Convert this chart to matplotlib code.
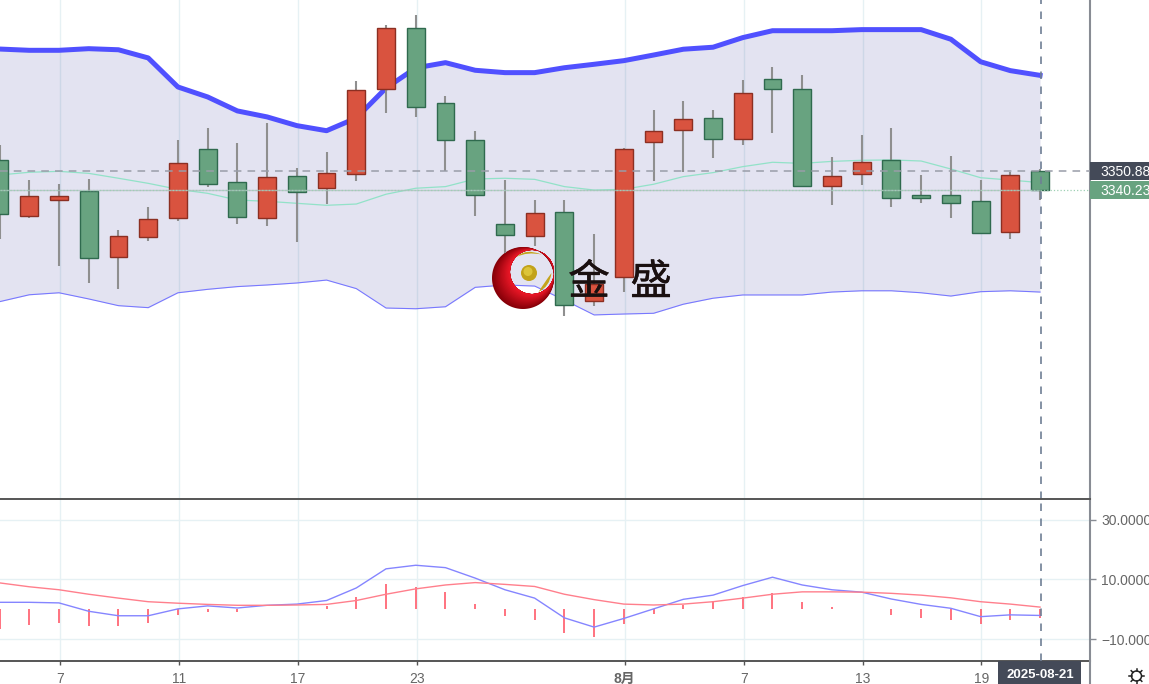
import numpy as np
import matplotlib
matplotlib.use('Agg')
from matplotlib import patheffects
from matplotlib import pyplot as plt
from matplotlib.colors import to_rgb
from matplotlib.lines import Line2D
from matplotlib.patches import Circle, PathPatch, Rectangle
from matplotlib.path import Path
from matplotlib.transforms import Affine2D, blended_transform_factory

plt.rcParams['font.family'] = ['Liberation Sans', 'Noto Sans CJK SC', 'DejaVu Sans']

# Daily candles
opens = [3356.8, 3325.9, 3334.7, 3339.7, 3303.3, 3314.3, 3324.8, 3362.8, 3344.6, 3324.8, 3347.9, 3341.3,
         3349.1, 3395.9, 3429.5, 3388.2, 3367.8, 3321.5, 3314.9, 3328.1, 3279.1, 3292.3, 3366.7, 3373.3,
         3379.9, 3368.3, 3401.4, 3395.9, 3342.4, 3349.1, 3356.8, 3337.5, 3337.5, 3334.2, 3317.1, 3350.88]
closes = [3327.0, 3336.9, 3336.9, 3302.8, 3314.9, 3324.3, 3355.1, 3343.5, 3325.4, 3347.4, 3339.1, 3349.6,
          3395.3, 3429.5, 3386.0, 3367.8, 3337.5, 3315.4, 3327.6, 3276.9, 3288.4, 3362.8, 3372.7, 3379.4,
          3368.3, 3393.7, 3395.9, 3342.4, 3347.9, 3355.7, 3335.8, 3335.8, 3333.1, 3316.5, 3348.5, 3340.23]
highs = [3365.0, 3345.7, 3343.5, 3346.3, 3318.2, 3330.9, 3367.8, 3374.4, 3366.1, 3377.2, 3352.4, 3361.2,
         3400.3, 3431.1, 3436.7, 3392.0, 3372.7, 3345.7, 3334.7, 3334.7, 3316.0, 3363.4, 3384.3, 3389.3,
         3384.3, 3400.8, 3408.0, 3403.6, 3358.4, 3370.5, 3374.4, 3348.5, 3359.0, 3345.7, 3350.2, 3351.8]
lows = [3313.2, 3324.8, 3298.4, 3289.0, 3285.7, 3312.1, 3323.2, 3341.9, 3321.5, 3320.4, 3311.6, 3332.5,
        3345.2, 3382.7, 3380.5, 3350.7, 3325.9, 3305.5, 3309.4, 3270.8, 3276.3, 3284.0, 3345.2, 3350.2,
        3357.9, 3365.0, 3371.6, 3341.9, 3332.0, 3343.0, 3330.9, 3333.1, 3324.8, 3316.0, 3313.2, 3334.7]

# Bollinger bands
boll_upper = [3417.9, 3417.2, 3417.2, 3418.1, 3417.5, 3413.0, 3397.0, 3391.5, 3383.8, 3380.5, 3375.7, 3372.9,
              3379.9, 3396.4, 3407.5, 3410.4, 3406.2, 3404.9, 3404.9, 3407.6, 3409.5, 3411.5, 3414.6, 3417.8,
              3418.9, 3424.2, 3428.0, 3428.0, 3428.0, 3428.6, 3428.6, 3428.6, 3423.3, 3410.9, 3406.0, 3403.4]
boll_mid = [3348.5, 3350.0, 3350.5, 3349.4, 3346.7, 3343.9, 3340.6, 3338.4, 3334.7, 3334.0, 3332.9, 3331.8,
            3332.5, 3337.9, 3341.2, 3342.1, 3346.3, 3346.7, 3346.1, 3342.1, 3340.2, 3340.6, 3343.4, 3347.6,
            3349.8, 3353.1, 3355.5, 3354.9, 3356.0, 3356.6, 3356.8, 3356.2, 3351.8, 3347.0, 3345.7, 3344.3]
boll_lower = [3278.7, 3282.5, 3283.6, 3280.2, 3276.5, 3275.4, 3283.6, 3285.5, 3287.0, 3287.9, 3289.0, 3290.6,
              3285.9, 3275.2, 3274.8, 3275.9, 3286.6, 3287.9, 3287.3, 3279.6, 3271.4, 3271.9, 3272.3, 3277.3,
              3280.6, 3282.4, 3282.4, 3282.4, 3284.0, 3284.7, 3284.7, 3283.6, 3281.8, 3284.2, 3284.7, 3284.0]

# MACD panel
dif = [2.3, 2.3, 2.1, -0.7, -2.2, -2.2, 0.1, 1.1, 0.4, 1.3, 1.7, 2.9,
       7.1, 13.5, 14.7, 13.9, 10.4, 6.5, 3.7, -2.9, -6.0, -3.1, 0.1, 3.3,
       4.7, 7.9, 10.7, 8.1, 6.5, 5.7, 3.4, 1.6, 0.3, -2.5, -1.9, -2.1]
dea = [8.8, 7.5, 6.5, 5.0, 3.7, 2.5, 2.0, 1.6, 1.3, 1.3, 1.4, 1.6,
       2.9, 5.0, 6.8, 8.1, 8.9, 8.3, 7.6, 5.0, 3.2, 1.7, 1.4, 1.7,
       2.5, 3.7, 5.0, 5.8, 5.8, 5.7, 5.3, 4.7, 3.8, 2.5, 1.7, 0.7]
macd_hist = [-6.5, -5.4, -4.5, -5.7, -5.7, -4.7, -1.9, -0.9, -1.1, 0.0, 0.0, 1.0,
             4.2, 8.4, 7.5, 5.6, 1.7, -2.2, -3.5, -7.9, -9.3, -4.9, -1.6, 1.5,
             2.7, 4.2, 5.5, 2.5, 0.8, 0.0, -1.8, -2.9, -3.6, -5.1, -3.6, -2.9]

tick_idx = [2, 6, 10, 14, 21, 25, 29, 33]
tick_labels = ['7', '11', '17', '23', '8月', '7', '13', '19']
macd_ticks = [30, 10, -10]
macd_tick_labels = ['30.0000', '10.0000', '\u221210.0000']
last_date = '2025-08-21'
prev_price = 3350.88
last_price = 3340.23

RED = '#d9533f'
RED_EDGE = '#8c2f22'
GREEN = '#68a380'
GREEN_EDGE = '#2f6a4e'
GRID = '#e6f1f4'
AXIS = '#888c94'
DARK = '#444a58'
TICK_TEXT = '#666666'

# Figure pixels, y going down; used for the logo and the gear only
fig = plt.figure(figsize=(11.49, 6.84), dpi=100)
px = Affine2D().scale(1, -1).translate(0, 684)

ax = fig.add_axes([0, (684 - 499) / 684, 1090 / 1149, 499 / 684])
sub = fig.add_axes([0, (684 - 661) / 684, 1090 / 1149, 162 / 684])
x = np.arange(len(opens))

# Price panel
ax.fill_between(x, boll_lower, boll_upper, color='#3a3a9c', alpha=0.14, lw=0, zorder=1)
ax.plot(x, boll_upper, color='#5050ff', lw=3.6, zorder=2, solid_joinstyle='round')
ax.plot(x, boll_lower, color='#7878ff', lw=0.8, zorder=2)
ax.plot(x, boll_mid, color='#92e2c8', lw=0.9, zorder=2)

# Logo sits over the bands but under the candles
theta = np.linspace(0, 2 * np.pi, 120)
inner = Path(np.column_stack([532 + 22 * np.cos(theta[::-1]), 272 + 22 * np.sin(theta[::-1])]))
dark_red = np.array(to_rgb('#860008'))
bright_red = np.array(to_rgb('#f01828'))
for t in np.linspace(0, 0.92, 14):
    cx, cy, r = 523 + 9 * t, 278 - 6 * t, 31 - 9 * t
    outer = Path(np.column_stack([cx + r * np.cos(theta), cy + r * np.sin(theta)]))
    ax.add_patch(PathPatch(Path.make_compound_path(outer, inner), transform=px, lw=0,
                           fc=dark_red + (bright_red - dark_red) * t, zorder=3))
leaf1 = Path([(516.5, 257), (526, 248), (541.5, 254.5), (527, 251.5), (516.5, 257)],
             [Path.MOVETO, Path.CURVE3, Path.CURVE3, Path.CURVE3, Path.CURVE3])
leaf2 = Path([(538.5, 292), (549.5, 287), (551.5, 273), (544, 283), (538.5, 292)],
             [Path.MOVETO, Path.CURVE3, Path.CURVE3, Path.CURVE3, Path.CURVE3])
for leaf in [leaf1, leaf2]:
    ax.add_patch(PathPatch(leaf, transform=px, fc='#c4a41c', ec='none', zorder=3))
ax.add_patch(Circle((529, 273), 8, transform=px, fc='#c2a21a', ec='none', zorder=3))
ax.add_patch(Circle((528, 271.5), 4.5, transform=px, fc='#dcc43a', ec='none', zorder=3))

# Candles: red up, green down
up = np.array(closes) >= np.array(opens)
body_low = np.minimum(opens, closes)
body_h = np.abs(np.array(closes) - np.array(opens))
ax.vlines(x, lows, highs, color='#8f8f8f', lw=1.5, zorder=4)
ax.bar(x, body_h, bottom=body_low, width=0.6, color=[RED if u else GREEN for u in up],
       edgecolor=[RED_EDGE if u else GREEN_EDGE for u in up], linewidth=1.0, zorder=5)

for cx, word in [(589, '金'), (651, '盛')]:
    t = ax.text(cx, 283, word, transform=px, ha='center', va='center', fontsize=30, color='#1a1010',
                family=['Noto Sans CJK SC'], zorder=6)
    t.set_path_effects([patheffects.withStroke(linewidth=0.3, foreground='#1a1010')])

ax.axhline(prev_price, color='#999da8', lw=1.1, ls=(0, (5, 4)), zorder=7)
ax.hlines(last_price, 0, x[-1], color='#aabcbc', lw=1.0, alpha=0.7, zorder=7)
ax.axhline(last_price, color='#9fd0b4', lw=0.9, ls=':', zorder=7)
ax.axvline(x[-1] + 0.03, color='#6f7f95', lw=1.2, ls=(0, (4.5, 4.5)), zorder=8)

ax.set_xlim(0.0155, 36.68)
ax.set_ylim(3169.97, 3444.92)
ax.set_xticks([i + 0.03 for i in tick_idx])
ax.set_yticks([])
ax.tick_params(axis='x', length=0, labelbottom=False)
ax.grid(axis='x', color=GRID, lw=1.0, zorder=0)
ax.set_axisbelow(True)
for side in ['top', 'left', 'bottom']:
    ax.spines[side].set_visible(False)
ax.spines['right'].set_color(AXIS)
ax.spines['right'].set_linewidth(1.5)

# Price tags right of the axis
tag = blended_transform_factory(ax.transAxes, ax.transData)
for price, color in [(prev_price, DARK), (last_price, GREEN)]:
    ax.add_patch(Rectangle((1.0, price - 4.95), 59 / 1090, 9.9, transform=tag, fc=color, ec='none',
                           clip_on=False, zorder=10))
    ax.text(1 + 10 / 1090, price, '%.2f' % price, transform=tag, color='white', fontsize=10,
            ha='left', va='center_baseline', clip_on=False, zorder=11)

# MACD panel
sub.vlines(x, 0, macd_hist, color='#ff5a6a', lw=1.2, zorder=3)
sub.plot(x, dif, color='#8585ff', lw=1.0, zorder=4)
sub.plot(x, dea, color='#ff7f8c', lw=1.0, zorder=4)
sub.axvline(x[-1] + 0.03, color='#6f7f95', lw=1.2, ls=(0, (4.5, 4.5)), zorder=8)

sub.set_xlim(0.0155, 36.68)
sub.set_ylim(-17.34, 36.87)
sub.set_xticks([i + 0.03 for i in tick_idx])
sub.set_xticklabels(tick_labels)
sub.set_yticks(macd_ticks)
sub.set_yticklabels(macd_tick_labels)
sub.yaxis.tick_right()
sub.tick_params(axis='x', length=3, width=1, color='#555555', labelcolor=TICK_TEXT, labelsize=10, pad=5)
sub.tick_params(axis='y', length=4.5, width=1, color=AXIS, labelcolor=TICK_TEXT, labelsize=10, pad=3.5)
sub.get_xticklabels()[4].set_fontweight('bold')
sub.grid(color=GRID, lw=1.0, zorder=0)
sub.set_axisbelow(True)
sub.spines['left'].set_visible(False)
sub.spines['top'].set_color('#555555')
sub.spines['top'].set_linewidth(1.4)
sub.spines['bottom'].set_color('#555555')
sub.spines['bottom'].set_linewidth(1.4)
sub.spines['right'].set_color(AXIS)
sub.spines['right'].set_linewidth(1.5)

# Date tag under the crosshair
date_tag = blended_transform_factory(sub.transData, sub.transAxes)
sub.add_patch(Rectangle((33.58, -23 / 162), 2.8, 23 / 162, transform=date_tag, fc=DARK, ec='none',
                        clip_on=False, zorder=10))
sub.text(x[-1], -14.5 / 162, last_date, transform=date_tag, color='white', fontsize=9.5, fontweight='bold',
         ha='center', va='center', clip_on=False, zorder=11)

# Axis line carries on to the bottom edge, then the gear
fig.add_artist(Line2D([1090, 1090], [661, 684], transform=px, color=AXIS, lw=1.5))
fig.add_artist(Circle((1136.5, 676), 5, transform=px, fc='none', ec='#222222', lw=1.1))
for a in np.arange(8) * np.pi / 4:
    fig.add_artist(Line2D([1136.5 + 5 * np.cos(a), 1136.5 + 7.5 * np.cos(a)],
                          [676 + 5 * np.sin(a), 676 + 7.5 * np.sin(a)],
                          transform=px, color='#222222', lw=1.1))

plt.savefig('out.png')
plt.close()
